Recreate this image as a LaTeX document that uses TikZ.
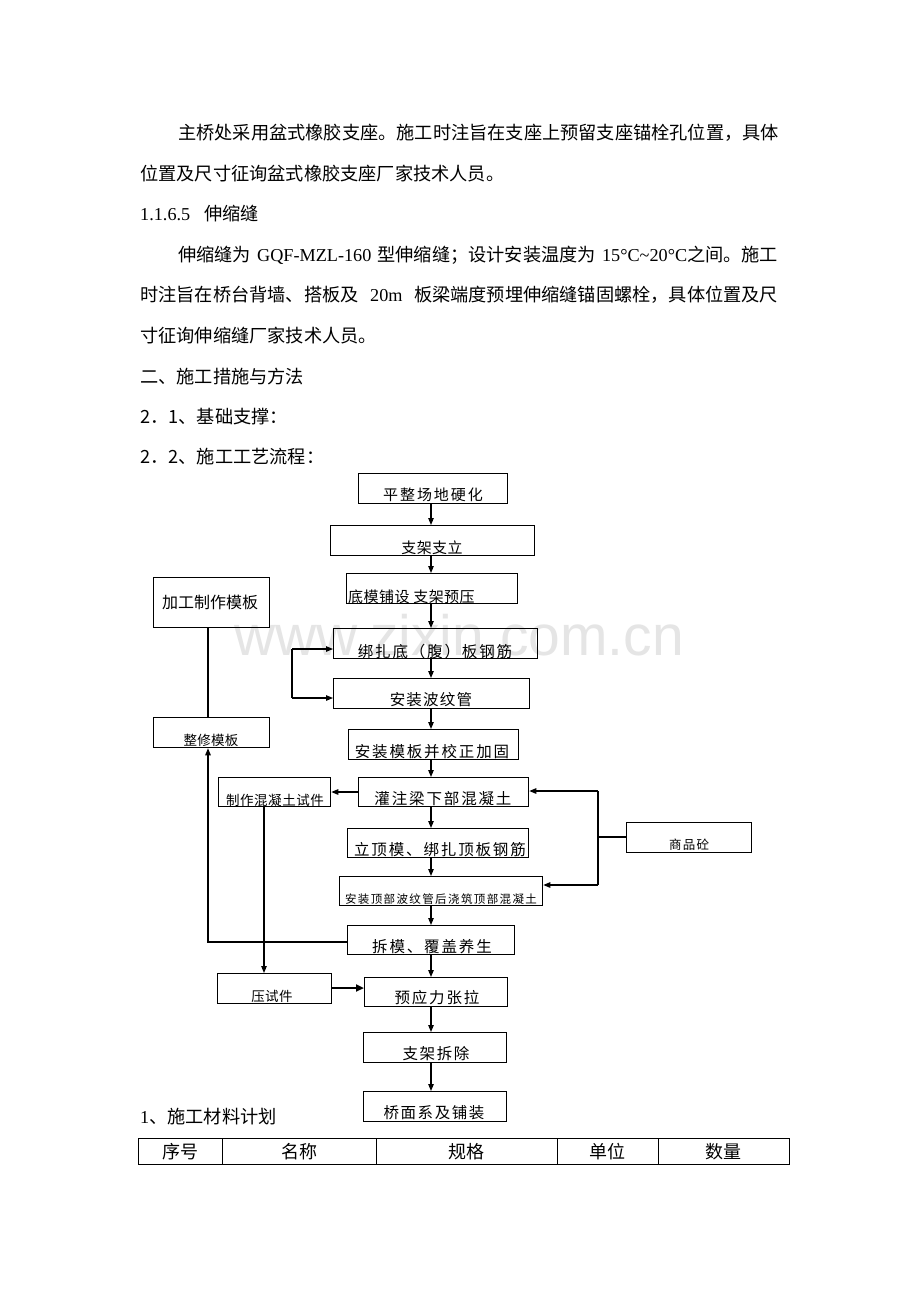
\documentclass[tikz,border=0pt]{standalone}
\usepackage{fontspec}
\setmainfont{Liberation Serif}
\newfontfamily\cjk{Noto Sans CJK SC}
\newfontfamily\wmfont{Liberation Sans}
\usetikzlibrary{arrows.meta}
\newcommand\ff[2]{\fontsize{#1}{#1}\cjk\addfontfeatures{LetterSpace=#2}}
\newcommand\lat[1]{{\rmfamily #1}}
\newcommand\bodyfont{\fontsize{18.2}{18.2}\cjk}
\begin{document}
\begin{tikzpicture}[x=1pt,y=-1pt,
  box/.style={draw, line width=1.3pt, inner sep=0pt, anchor=north west},
  ft/.style={inner sep=0pt},
  body/.style={inner sep=0pt, anchor=west, font=\bodyfont},
  arr/.style={-{Triangle[length=7pt,width=5.5pt]}, line width=1.1pt},
  ln/.style={line width=1.1pt},
  cell/.style={draw, line width=0.9pt, inner sep=0pt, anchor=north west, minimum height=26pt, font=\fontsize{18}{18}\cjk}]
\useasboundingbox[fill=white] (0,0) rectangle (920,1302);

% watermark
\node[ft, text=black!10, font=\fontsize{57}{57}\wmfont] (wm) at (459,635) {www.zixin.com.cn};

% body text
\node[body] (p1) at (178,133) {\makebox[600pt][s]{主桥处采用盆式橡胶支座。施工时注旨在支座上预留支座锚栓孔位置，具体}};
\node[body] (p2) at (140,174) {位置及尺寸征询盆式橡胶支座厂家技术人员。};
\node[body] (p3) at (140,214) {\lat{1.1.6.5}\hspace{14pt}伸缩缝};
\node[body] (p4) at (178,255) {\makebox[600pt][s]{伸缩缝为\hfil{}\lat{ GQF-MZL-160 }\hfil{}型伸缩缝；设计安装温度为\hfil{}\lat{ 15°C\textasciitilde20°C}之间。施工}};
\node[body] (p5) at (140,295) {\makebox[638pt][s]{时注旨在桥台背墙、搭板及\lat{ 20m }板梁端度预埋伸缩缝锚固螺栓，具体位置及尺}};
\node[body] (p6) at (140,336) {寸征询伸缩缝厂家技术人员。};
\node[body] (p7) at (140,377) {二、施工措施与方法};
\node[body] (p8) at (140,417) {2．1、基础支撑：};
\node[body] (p9) at (140,457) {2．2、施工工艺流程：};
\node[body] (p10) at (140,1117) {\lat{1}、施工材料计划};

% main boxes
\node[box, minimum width=149pt, minimum height=30pt] (b1) at (358,473) {};
\node[box, minimum width=204pt, minimum height=30pt] (b2) at (330,525) {};
\node[box, minimum width=171pt, minimum height=30pt] (b3) at (346,573) {};
\node[box, minimum width=204pt, minimum height=30pt] (b4) at (333,628) {};
\node[box, minimum width=196pt, minimum height=30pt] (b5) at (333,678) {};
\node[box, minimum width=170pt, minimum height=30pt] (b6) at (348,729) {};
\node[box, minimum width=170pt, minimum height=29pt] (b7) at (358,777) {};
\node[box, minimum width=181pt, minimum height=29pt] (b8) at (347,828) {};
\node[box, minimum width=203pt, minimum height=29pt] (b9) at (339,876) {};
\node[box, minimum width=167pt, minimum height=29pt] (b10) at (347,925) {};
\node[box, minimum width=143pt, minimum height=29pt] (b11) at (364,977) {};
\node[box, minimum width=143pt, minimum height=30pt] (b12) at (363,1032) {};
\node[box, minimum width=143pt, minimum height=30pt] (b13) at (363,1091) {};
% side boxes
\node[box, minimum width=116pt, minimum height=50pt] (s1) at (153,577) {};
\node[box, minimum width=116pt, minimum height=30pt] (s2) at (153,717) {};
\node[box, minimum width=112pt, minimum height=29pt] (s3) at (218,777) {};
\node[box, minimum width=114pt, minimum height=30pt] (s4) at (217,973) {};
\node[box, minimum width=125pt, minimum height=30pt] (s5) at (626,822) {};

% box texts
\node[ft, font=\ff{15}{13}] (t1) at (433,495) {平整场地硬化};
\node[ft, font=\ff{15}{3}] (t2) at (432,548) {支架支立};
\node[ft, font=\ff{15}{3}, anchor=west] (t3) at (348,597) {底模铺设 支架预压};
\node[ft, font=\ff{15.5}{12}] (t4) at (435,652) {绑扎底（腹）板钢筋};
\node[ft, font=\ff{15.5}{8}] (t5) at (431,700) {安装波纹管};
\node[ft, font=\ff{15.5}{12}] (t6) at (432,752) {安装模板并校正加固};
\node[ft, font=\ff{15.5}{12}] (t7) at (443,799) {灌注梁下部混凝土};
\node[ft, font=\ff{15.5}{12}] (t8) at (440,850) {立顶模、绑扎顶板钢筋};
\node[ft, font=\ff{11.5}{12}] (t9) at (441,899) {安装顶部波纹管后浇筑顶部混凝土};
\node[ft, font=\ff{15.5}{12}] (t10) at (432,947) {拆模、覆盖养生};
\node[ft, font=\ff{15.5}{12}] (t11) at (437,998) {预应力张拉};
\node[ft, font=\ff{15.5}{10}] (t12) at (436,1054) {支架拆除};
\node[ft, font=\ff{15.5}{10}] (t13) at (434,1113) {桥面系及铺装};
\node[ft, font=\ff{16}{0}] (u1) at (210,602) {加工制作模板};
\node[ft, font=\ff{13.5}{2}] (u2) at (211,740) {整修模板};
\node[ft, font=\ff{13.5}{4}] (u3) at (275,800) {制作混凝土试件};
\node[ft, font=\ff{13.5}{2}] (u4) at (272,996) {压试件};
\node[ft, font=\ff{12.5}{10}] (u5) at (689,845) {商品砼};

% connectors
\coordinate (ax) at (431,0);
\draw[arr] (b1.south -| ax) -- (b2.north -| ax);
\draw[arr] (b2.south -| ax) -- (b3.north -| ax);
\draw[arr] (b3.south -| ax) -- (b4.north -| ax);
\draw[arr] (b4.south -| ax) -- (b5.north -| ax);
\draw[arr] (b5.south -| ax) -- (b6.north -| ax);
\draw[arr] (b6.south -| ax) -- (b7.north -| ax);
\draw[arr] (b7.south -| ax) -- (b8.north -| ax);
\draw[arr] (b8.south -| ax) -- (b9.north -| ax);
\draw[arr] (b9.south -| ax) -- (b10.north -| ax);
\draw[arr] (b10.south -| ax) -- (b11.north -| ax);
\draw[arr] (b11.south -| ax) -- (b12.north -| ax);
\draw[arr] (b12.south -| ax) -- (b13.north -| ax);

% loop between b4 and b5
\coordinate (lp) at (292,673);
\coordinate (la) at (0,649);
\coordinate (lb) at (0,698);
\draw[ln] (lp |- la) -- (lp |- lb);
\draw[arr] (lp |- la) -- (b4.west |- la);
\draw[arr] (lp |- lb) -- (b5.west |- lb);

% formwork loop
\coordinate (fx) at (208,0);
\coordinate (fy) at (0,942);
\draw[ln] (s1.south -| fx) -- (s2.north -| fx);
\draw[arr] (b10.west |- fy) -- (fx |- fy) -- (s2.south -| fx);

% concrete specimens
\coordinate (cy) at (0,792);
\coordinate (cx) at (264,0);
\draw[arr] (b7.west |- cy) -- (s3.east |- cy);
\draw[arr] (s3.south -| cx) -- (s4.north -| cx);
\coordinate (py) at (0,988);
\draw[-{Triangle[length=8pt,width=7pt]}, line width=2pt] (s4.east |- py) -- (b11.west |- py);

% commercial concrete
\coordinate (mx) at (598,0);
\coordinate (my1) at (0,791);
\coordinate (my2) at (0,885);
\coordinate (my0) at (0,837);
\draw[ln] (s5.west |- my0) -- (mx |- my0);
\draw[ln] (mx |- my1) -- (mx |- my2);
\draw[arr] (mx |- my1) -- (b7.east |- my1);
\draw[arr] (mx |- my2) -- (b9.east |- my2);

% table
\node[cell, minimum width=84pt] (c1) at (138,1138) {序号};
\node[cell, minimum width=154pt] (c2) at (222,1138) {名称};
\node[cell, minimum width=181pt] (c3) at (376,1138) {规格};
\node[cell, minimum width=101pt] (c4) at (557,1138) {单位};
\node[cell, minimum width=131pt] (c5) at (658,1138) {数量};
\end{tikzpicture}
\end{document}
